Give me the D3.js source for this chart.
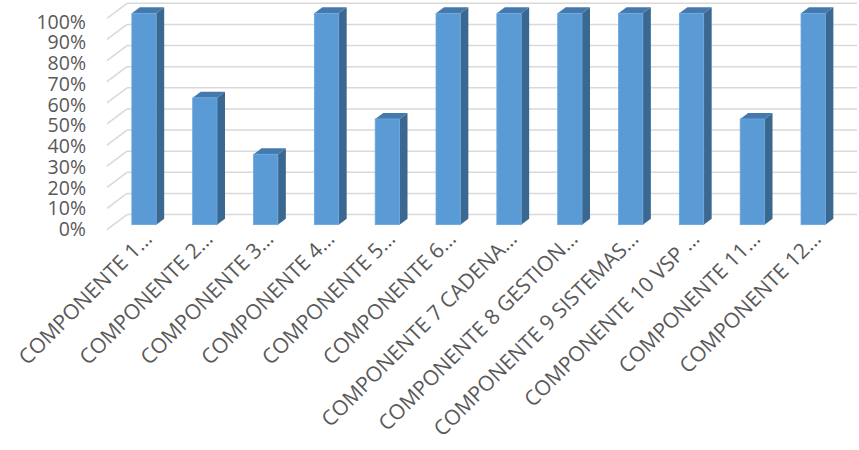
<!doctype html>
<html>
<head>
<meta charset="utf-8">
<script src="https://d3js.org/d3.v7.min.js"></script>
<style>
body { margin: 0; background: #fff; }
text { font-family: 'Open Sans', sans-serif; fill: #595959; }
</style>
</head>
<body>
<div id="chart"></div>
<script>
// data
var categories = ["COMPONENTE 1…", "COMPONENTE 2…", "COMPONENTE 3…", "COMPONENTE 4…",
  "COMPONENTE 5…", "COMPONENTE 6…", "COMPONENTE 7 CADENA…", "COMPONENTE 8 GESTION…",
  "COMPONENTE 9 SISTEMAS…", "COMPONENTE 10 VSP …", "COMPONENTE 11…", "COMPONENTE 12…"];
var values = [1, 0.6, 0.333, 1, 0.5, 1, 1, 1, 1, 1, 0.5, 1];
var tickValues = [0, 0.1, 0.2, 0.3, 0.4, 0.5, 0.6, 0.7, 0.8, 0.9, 1];

var width = 859, height = 450;
// depth vector from back wall to front plane
var depthX = -20, depthY = 15;
// bar front face and back face as fractions of depth (0 = back wall, 1 = front)
var barFront = 0.67, barBack = 0.27;

var svg = d3.select("#chart").append("svg")
  .attr("width", width).attr("height", height);

// scales on the back wall
var x = d3.scaleBand().domain(categories).range([127, 857])
  .paddingInner(0.6).paddingOuter(0.3);
var y = d3.scaleLinear().domain([0, 1]).range([214.6, 3.3]);
var yLabel = d3.scaleLinear().domain([0, 1]).range([229.4, 21.7]);

// back wall gridlines
svg.append("g").selectAll("line.grid")
  .data(tickValues).enter().append("line")
  .attr("x1", 127).attr("x2", 857)
  .attr("y1", function(d){ return y(d); })
  .attr("y2", function(d){ return y(d); })
  .attr("stroke", "#d9d9d9").attr("stroke-width", 1.5);

// side wall diagonals
svg.append("g").selectAll("line.side")
  .data(tickValues).enter().append("line")
  .attr("x1", 127).attr("x2", 127 + depthX)
  .attr("y1", function(d){ return y(d); })
  .attr("y2", function(d){ return y(d) + depthY; })
  .attr("stroke", "#d9d9d9").attr("stroke-width", 1.5);

// y axis labels
svg.append("g").selectAll("text")
  .data(tickValues).enter().append("text")
  .attr("x", 86)
  .attr("y", function(d){ return yLabel(d); })
  .attr("dy", "0.35em")
  .attr("text-anchor", "end")
  .style("font-size", "19.5px")
  .text(d3.format(".0%"));

// bars
var bars = svg.append("g").selectAll("g.bar")
  .data(categories.map(function(c, i){ return {cat: c, v: values[i]}; }))
  .enter().append("g").attr("class", "bar");

function pt(px, py, f) { return [px + depthX * f, py + depthY * f]; }

bars.each(function(d){
  var g = d3.select(this);
  var x0 = x(d.cat), x1 = x0 + x.bandwidth();
  var yb = y(0), yt = y(d.v);
  var line = function(ps){ return "M" + ps.map(function(p){ return p.join(","); }).join("L") + "Z"; };
  // side face
  g.append("path").attr("d", line([pt(x1, yt, barFront), pt(x1, yt, barBack), pt(x1, yb, barBack), pt(x1, yb, barFront)]))
    .attr("fill", "#3b6891");
  // top face
  g.append("path").attr("d", line([pt(x0, yt, barFront), pt(x0, yt, barBack), pt(x1, yt, barBack), pt(x1, yt, barFront)]))
    .attr("fill", "#4579ad");
  // front face
  var f0 = pt(x0, yt, barFront), f1 = pt(x1, yb, barFront);
  g.append("rect").attr("x", f0[0]).attr("y", f0[1])
    .attr("width", f1[0] - f0[0]).attr("height", f1[1] - f0[1])
    .attr("fill", "#5b9bd5").attr("stroke", "#6aa6dc").attr("stroke-width", 0.8);
});

// category labels, rotated
svg.append("g").selectAll("text")
  .data(categories).enter().append("text")
  .attr("transform", function(d){
    var cx = x(d) + x.bandwidth() / 2 + depthX * barFront + 4;
    return "translate(" + cx + ",235) rotate(-45)";
  })
  .attr("text-anchor", "end")
  .attr("dy", "0.35em")
  .style("font-size", "21px")
  .text(function(d){ return d; });
</script>
</body>
</html>
